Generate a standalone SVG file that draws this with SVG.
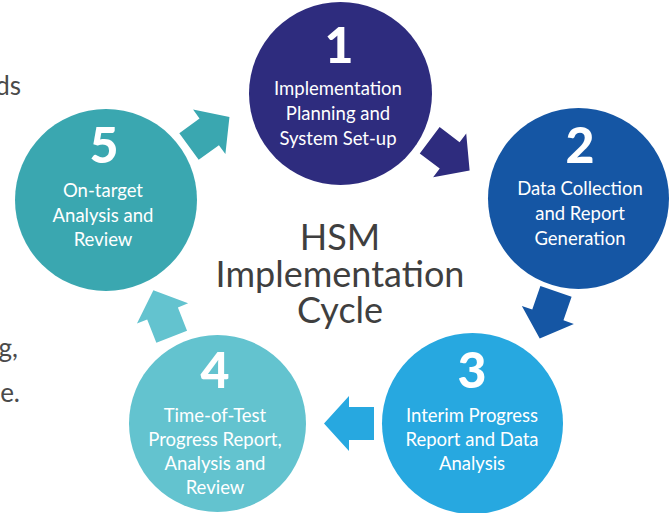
<svg xmlns="http://www.w3.org/2000/svg" width="671" height="513" viewBox="0 0 671 513">
<defs>
<style>
.lbl{font-family:Lato,"Open Sans","Liberation Sans",sans-serif;font-size:18.5px;fill:#ffffff;text-anchor:middle}
.num{font-family:Lato,"Liberation Sans",sans-serif;font-size:50px;font-weight:900;fill:#ffffff;text-anchor:middle}
.title{font-family:Lato,"Open Sans","Liberation Sans",sans-serif;font-size:36px;fill:#3f3f3f;text-anchor:middle}
.side{font-family:Lato,"Liberation Sans",sans-serif;font-size:26px;fill:#4a4a4a;text-anchor:end}
</style>
<polygon id="arr" points="0,-16.5 25,-16.5 25,-27.5 50,0 25,27.5 25,16.5 0,16.5"/>
</defs>
<rect width="671" height="513" fill="#ffffff"/>
<text class="side" x="21" y="95">ds</text>
<text class="side" x="18" y="357">g,</text>
<text class="side" x="20" y="402">e.</text>
<g id="connectors">
<use href="#arr" fill="#2e2c7e" transform="translate(429.7,140.3) rotate(37)"/>
<use href="#arr" fill="#1556a4" transform="translate(556,291.3) rotate(109)"/>
<use href="#arr" fill="#27a8e0" transform="translate(374,423.5) rotate(180)"/>
<use href="#arr" fill="#63c3cf" transform="translate(171.7,336.7) rotate(-111.5)"/>
<use href="#arr" fill="#3aa7b0" transform="translate(189,146.5) rotate(-36)"/>
</g>
<g id="node1">
<circle cx="340.5" cy="93.5" r="91.5" fill="#2e2c7e"/>
<text class="num" x="339" y="63">1</text>
<text class="lbl" x="338" y="95">Implementation</text>
<text class="lbl" x="338" y="120">Planning and</text>
<text class="lbl" x="338" y="145">System Set-up</text>
</g>
<g id="node2">
<circle cx="578.5" cy="198.5" r="90.5" fill="#1556a4"/>
<text class="num" x="580" y="163">2</text>
<text class="lbl" x="580" y="195">Data Collection</text>
<text class="lbl" x="580" y="220">and Report</text>
<text class="lbl" x="580" y="245">Generation</text>
</g>
<g id="node3">
<circle cx="472.5" cy="423.5" r="90.5" fill="#27a8e0"/>
<text class="num" x="472" y="388">3</text>
<text class="lbl" x="472" y="422">Interim Progress</text>
<text class="lbl" x="472" y="446">Report and Data</text>
<text class="lbl" x="472" y="470">Analysis</text>
</g>
<g id="node4">
<circle cx="217.5" cy="423.5" r="88.5" fill="#63c3cf"/>
<text class="num" x="215" y="388">4</text>
<text class="lbl" x="215" y="422">Time-of-Test</text>
<text class="lbl" x="215" y="446">Progress Report,</text>
<text class="lbl" x="215" y="470">Analysis and</text>
<text class="lbl" x="215" y="494">Review</text>
</g>
<g id="node5">
<circle cx="106" cy="200" r="91" fill="#3aa7b0"/>
<text class="num" x="104" y="163">5</text>
<text class="lbl" x="103" y="197">On-target</text>
<text class="lbl" x="103" y="222">Analysis and</text>
<text class="lbl" x="103" y="246">Review</text>
</g>
<g id="title">
<text class="title" x="340" y="250">HSM</text>
<text class="title" x="340" y="287">Implementation</text>
<text class="title" x="340" y="323">Cycle</text>
</g>
</svg>
